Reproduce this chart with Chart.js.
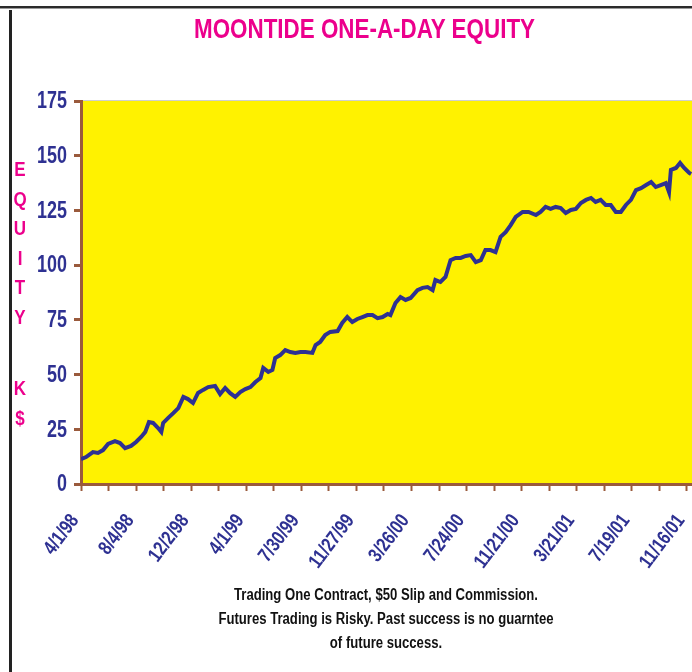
<!DOCTYPE html>
<html>
<head>
<meta charset="utf-8">
<script src="https://cdn.jsdelivr.net/npm/chart.js@4/dist/chart.umd.min.js"></script>
<style>
  body { margin: 0; background: #fff; }
  #wrap { position: relative; width: 692px; height: 672px; overflow: hidden; }
  #equityChart { position: absolute; left: 0; top: 0; }
  .frameTop { position: absolute; left: 0; top: 6px; width: 692px; height: 2px; background: #2b2b2b; }
  .frameTop2 { position: absolute; left: 0; top: 8px; width: 692px; height: 1px; background: #9a9a9a; }
  .frameLeft { position: absolute; left: 9px; top: 10px; width: 3px; height: 662px; background: #222; }
  #title { position: absolute; left: 154px; width: 400px; top: 13px; text-align: center; white-space: nowrap;
    font: bold 28px 'Liberation Sans', Arial, sans-serif; color: #ec008c; transform: scaleX(0.8); }
  #yTitle { position: absolute; left: 10px; top: 155px; width: 20px; text-align: center;
    font: bold 20px 'Liberation Sans', Arial, sans-serif; color: #ec008c; transform: scaleX(0.85); }
  #yTitle div { height: 29.5px; line-height: 29.5px; }
  #yTitle .gap { height: 42px; }
  #note { position: absolute; left: 136px; width: 500px; top: 583px; text-align: center; white-space: nowrap;
    font: bold 16px 'Liberation Sans', Arial, sans-serif; color: #111; line-height: 24px; transform: scaleX(0.82); }
</style>
</head>
<body>
<div id="wrap">
  <canvas id="equityChart" width="692" height="672"></canvas>
  <div class="frameTop"></div>
  <div class="frameTop2"></div>
  <div class="frameLeft"></div>
  <div id="title">MOONTIDE ONE-A-DAY EQUITY</div>
  <div id="yTitle">
    <div>E</div><div>Q</div><div>U</div><div>I</div><div>T</div><div>Y</div>
    <div class="gap"></div>
    <div>K</div><div>$</div>
  </div>
  <div id="note">Trading One Contract, $50 Slip and Commission.<br>Futures Trading is Risky. Past success is no guarntee<br>of future success.</div>
</div>
<script>
// days since 4/1/98 and equity in K$
const days = [0, 11, 26, 37, 48, 59, 74, 85, 96, 109, 120, 131, 140, 148, 157, 168, 175, 179, 190, 201,
  212, 223, 233, 244, 255, 266, 277, 292, 303, 314, 325, 336, 347, 358, 369, 380, 391, 397, 408, 417,
  423, 434, 445, 456, 467, 478, 489, 504, 511, 521, 532, 543, 559, 569, 580, 591, 602, 613, 624, 635,
  646, 657, 668, 674, 685, 696, 707, 718, 733, 744, 755, 766, 772, 783, 794, 805, 816, 827, 838, 849,
  860, 871, 881, 892, 903, 914, 925, 936, 947, 962, 975, 991, 1001, 1012, 1023, 1034, 1045, 1056, 1067, 1078,
  1089, 1100, 1111, 1121, 1132, 1143, 1154, 1165, 1176, 1187, 1198, 1209, 1220, 1231, 1242, 1252, 1263, 1274, 1281, 1285,
  1296, 1305, 1314, 1325, 1329];
const equity = [11.4, 12.3, 14.6, 14.2, 15.5, 18.3, 19.6, 18.7, 16.4, 17.4, 19.2, 21.5, 23.8, 28.3, 27.9, 25.6, 23.8, 27.9, 30.2, 32.4,
  34.7, 39.8, 38.8, 37.0, 41.6, 43.0, 44.3, 44.8, 41.1, 43.9, 41.5, 39.8, 42.0, 43.4, 44.3, 46.6, 48.4, 53.0, 51.2, 52.1,
  57.6, 58.9, 61.2, 60.3, 59.9, 60.3, 60.3, 59.9, 63.5, 64.9, 68.1, 69.5, 69.9, 73.6, 76.3, 74.0, 75.4, 76.3, 77.2, 77.2,
  75.8, 76.3, 77.7, 77.2, 82.7, 85.4, 84.1, 85.0, 88.6, 89.6, 90.0, 88.6, 93.2, 92.3, 94.6, 102.3, 103.3, 103.3, 104.2, 104.6,
  101.4, 102.3, 106.9, 106.9, 106.0, 112.9, 115.1, 118.3, 122.0, 124.3, 124.3, 122.9, 124.3, 126.6, 125.7, 126.6, 126.1, 123.8, 125.2, 125.7,
  128.4, 129.8, 130.7, 128.9, 129.8, 127.5, 127.5, 124.3, 124.3, 127.5, 129.8, 134.3, 135.2, 136.6, 138.0, 135.7, 136.6, 137.5, 133.4, 143.5,
  144.4, 146.7, 144.4, 142.1, 141.6];
const dateLabels = ["4/1/98", "8/4/98", "12/2/98", "4/1/99", "7/30/99", "11/27/99", "3/26/00",
  "7/24/00", "11/21/00", "3/21/01", "7/19/01", "11/16/01"];
const yTicks = [0, 25, 50, 75, 100, 125, 150, 175];

const FONT = "'Liberation Sans', Arial, sans-serif";
const NAVY = "#2e3192";
const BROWN = "#9a5a3c";

const plotBg = {
  id: "plotBg",
  beforeDraw(chart) {
    const a = chart.chartArea;
    const c = chart.ctx;
    c.save();
    c.fillStyle = "#fff200";
    c.fillRect(a.left, a.top, a.right - a.left, a.bottom - a.top);
    c.fillStyle = "#cfcfcf";
    c.fillRect(a.left, a.top - 1, a.right - a.left, 1);
    c.restore();
  },
};

// narrow tick labels (no condensed font installed, so squeeze them)
const narrowTicks = {
  id: "narrowTicks",
  afterDraw(chart) {
    const c = chart.ctx;
    const xs = chart.scales.x;
    const ys = chart.scales.y;
    c.save();
    c.fillStyle = NAVY;
    c.textAlign = "right";
    c.textBaseline = "middle";
    c.font = "bold 23px " + FONT;
    yTicks.forEach((v) => {
      c.save();
      c.translate(67, ys.getPixelForValue(v) + 1);
      c.scale(0.78, 1);
      c.fillText(String(v), 0, 0);
      c.restore();
    });
    c.font = "bold 20px " + FONT;
    dateLabels.forEach((lab, i) => {
      c.save();
      c.translate(xs.getPixelForValue(i * 120) - 6, 517);
      c.rotate((-53 * Math.PI) / 180);
      c.scale(0.8, 1);
      c.fillText(lab, 0, 0);
      c.restore();
    });
    c.restore();
  },
};

new Chart(document.getElementById("equityChart"), {
  type: "line",
  data: {
    datasets: [
      {
        data: days.map((d, i) => ({ x: d, y: equity[i] })),
        borderColor: NAVY,
        borderWidth: 4,
        pointRadius: 0,
        tension: 0,
        fill: false,
      },
    ],
  },
  options: {
    responsive: false,
    animation: false,
    layout: { padding: { left: 36, right: 0, top: 101, bottom: 118 } },
    plugins: {
      legend: { display: false },
      tooltip: { enabled: false },
    },
    scales: {
      x: {
        type: "linear",
        min: 0,
        max: 1331,
        afterFit: (s) => {
          s.height = 70;
          s.paddingLeft = 0;
          s.paddingRight = 0;
        },
        ticks: { display: false, stepSize: 60, includeBounds: false, autoSkip: false },
        grid: { drawOnChartArea: false, tickLength: 7, tickColor: BROWN, tickWidth: 2 },
        border: { color: BROWN, width: 3 },
      },
      y: {
        min: yTicks[0],
        max: yTicks[yTicks.length - 1],
        afterFit: (s) => {
          s.width = 45;
          s.paddingTop = 0;
          s.paddingBottom = 0;
        },
        ticks: { display: false, stepSize: 25 },
        grid: { drawOnChartArea: false, tickLength: 7, tickColor: BROWN, tickWidth: 3 },
        border: { color: BROWN, width: 3 },
      },
    },
  },
  plugins: [plotBg, narrowTicks],
});
</script>
</body>
</html>
